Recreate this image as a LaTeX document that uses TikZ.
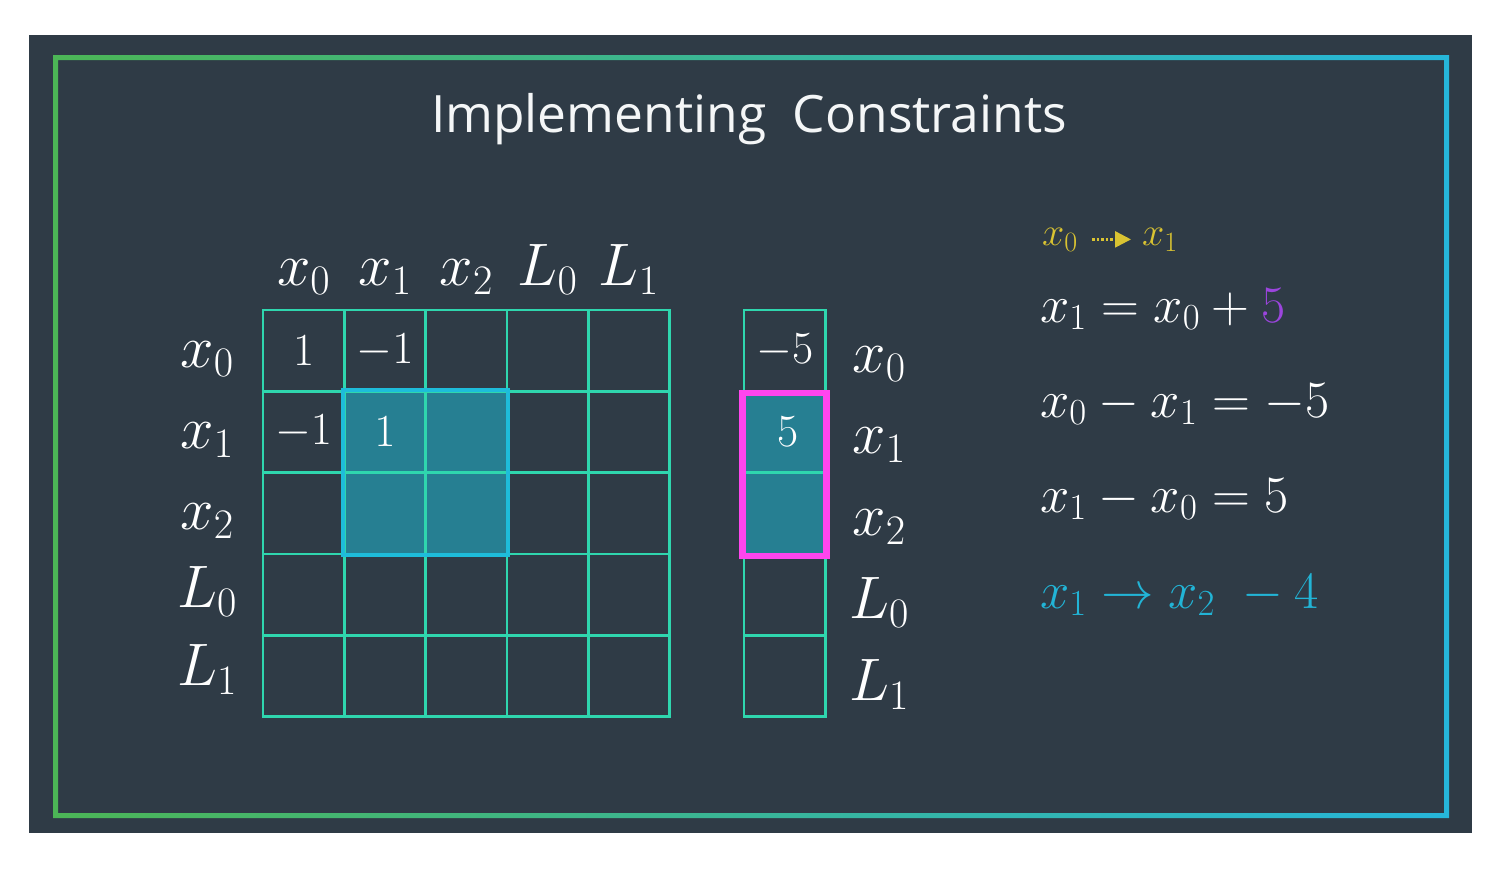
\RequirePackage{fix-cm}
\documentclass[tikz,border=0pt]{standalone}
\usepackage[no-math]{fontspec}
\newfontfamily\titlefont{Open Sans}
\usetikzlibrary{arrows.meta}

\definecolor{bgc}{HTML}{2F3B46}
\definecolor{gridc}{HTML}{2FD6AE}
\definecolor{hlfill}{HTML}{267F92}
\definecolor{hlline}{HTML}{1EBCDA}
\definecolor{magc}{HTML}{FF45EE}
\definecolor{yelc}{HTML}{D9C332}
\definecolor{purc}{HTML}{9B45DD}
\definecolor{cyc}{HTML}{22B4D6}
\definecolor{frL}{HTML}{4CB656}
\definecolor{frR}{HTML}{26B6DA}
\definecolor{titlec}{HTML}{F4F6F7}

\begin{document}
\begin{tikzpicture}[x=1pt,y=-1pt,
  cell/.style={draw=gridc, line width=2.6pt, minimum size=81.3pt, inner sep=0pt},
  hot0/.style={},
  hot1/.style={fill=hlfill},
  val/.style={text=white, inner sep=0pt, font=\fontsize{46}{50}\selectfont},
  lbl/.style={text=white, anchor=base, inner sep=0pt, font=\fontsize{60}{64}\selectfont},
  eq/.style={text=white, anchor=base west, inner sep=0pt, font=\fontsize{52.5}{56}\selectfont},
  small/.style={text=yelc, anchor=base west, inner sep=0pt, font=\fontsize{40}{44}\selectfont},
]
\useasboundingbox (0,0) rectangle (1504,870);
\fill[white] (0,0) rectangle (1504,870);

% slide background and gradient frame
\fill[bgc] (29,35) rectangle (1472,833);
\shade[left color=frL, right color=frR, even odd rule]
  (53,55) rectangle (1449,818) (58,60) rectangle (1444,813);

% title
\node[text=titlec, anchor=base, inner sep=0pt, font=\titlefont\fontsize{51.5}{56}\selectfont]
  (title) at (749,132) {Implementing\ \ Constraints};

% 5x5 matrix
\foreach \r in {1,...,5}
  \foreach \c in {1,...,5} {
    \pgfmathtruncatemacro\h{and(and(\r>1,\r<4),and(\c>1,\c<4))}
    \node[cell, hot\h] (m-\r-\c) at ({263+81.3*(\c-0.5)},{310+81.3*(\r-0.5)}) {};
  }
\draw[hlline, line width=4pt] (m-2-2.north west) rectangle (m-3-3.south east);

\node[val] (e11) at (m-1-1) {$1$};
\node[val] (e12) at (m-1-2) {$-1$};
\node[val] (e21) at (m-2-1) {$-1$};
\node[val] (e22) at (m-2-2) {$1$};

% vector
\foreach \r in {1,...,5} {
  \pgfmathtruncatemacro\h{and(\r>1,\r<4)}
  \node[cell, hot\h] (v-\r) at (784.65,{310+81.3*(\r-0.5)}) {};
}
\draw[magc, line width=6.5pt] ([yshift=-3pt]v-2.north west) rectangle ([yshift=-1pt]v-3.south east);
\node[val] (ev1) at (v-1) {$-5$};
\node[val] (ev2) at ([xshift=3pt]v-2.center) {$5$};

% column headers
\foreach \c/\t in {1/x_0,2/x_1,3/x_2,4/L_0,5/L_1}
  \node[lbl] (h\c) at ({263+81.3*(\c-0.5)},285) {$\t$};

% row labels, left and right
\foreach \r/\t/\yl/\yr in {1/x_0/367/372,2/x_1/448/453,3/x_2/529/535,4/L_0/607/618,5/L_1/685/700} {
  \node[lbl] (rl\r) at (207,\yl) {$\t$};
  \node[lbl] (rr\r) at (879,\yr) {$\t$};
}

% constraint notes
\node[small] (y0) at (1042,245) {$x_0$};
\node[small] (y1) at (1142,245) {$x_1$};
\draw[yelc, line width=2.5pt, dash pattern=on 2.5pt off 2pt,
      -{Triangle[length=16pt,width=16pt]}, shorten <=14pt, shorten >=11pt]
  (y0.east) -- (y1.west);

\node[eq] (q1) at (1040,322) {$x_1 = x_0 + \textcolor{purc}{5}$};
\node[eq] (q2) at (1040,417) {$x_0 - x_1 = -5$};
\node[eq] (q3) at (1040,512) {$x_1 - x_0 = 5$};
\node[eq, text=cyc] (q4) at (1040,608) {$x_1 \to x_2 \hspace{0.3em} {}-4$};
\end{tikzpicture}
\end{document}
